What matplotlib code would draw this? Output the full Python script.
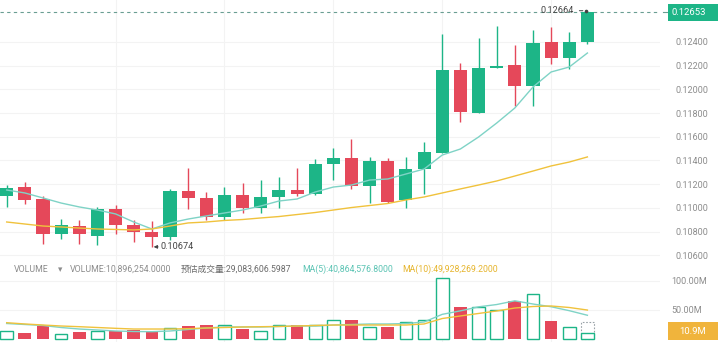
import matplotlib
matplotlib.use("Agg")
import matplotlib.pyplot as plt
from matplotlib.patches import Rectangle
import numpy as np

plt.rcParams['font.family'] = ['Roboto', 'Noto Sans CJK SC', 'DejaVu Sans']

# ---- OHLC data (33 periods) ----
opens = [0.11103, 0.11179, 0.11075, 0.10780, 0.10847, 0.10763, 0.10991, 0.10856, 0.10797,
         0.10754, 0.11143, 0.11086, 0.10923, 0.11109, 0.10999, 0.11090, 0.11154, 0.11117,
         0.11370, 0.11419, 0.11182, 0.11398, 0.11067, 0.11326, 0.11466, 0.12164, 0.11803,
         0.12178, 0.12203, 0.12031, 0.12397, 0.12262, 0.12400]
closes = [0.11170, 0.11069, 0.10780, 0.10856, 0.10780, 0.10991, 0.10856, 0.10797, 0.10754,
          0.11143, 0.11084, 0.10926, 0.11109, 0.10999, 0.11092, 0.11154, 0.11117, 0.11373,
          0.11419, 0.11187, 0.11398, 0.11052, 0.11326, 0.11469, 0.12164, 0.11809, 0.12178,
          0.12195, 0.12031, 0.12392, 0.12268, 0.12403, 0.12653]
highs = [0.11190, 0.11219, 0.11100, 0.10906, 0.10898, 0.11008, 0.11025, 0.10898, 0.10889,
         0.11160, 0.11337, 0.11137, 0.11179, 0.11213, 0.11235, 0.11258, 0.11339, 0.11415,
         0.11508, 0.11579, 0.11427, 0.11421, 0.11432, 0.11554, 0.12465, 0.12220, 0.12436,
         0.12535, 0.12375, 0.12501, 0.12529, 0.12487, 0.12664]
lows = [0.11008, 0.11033, 0.10695, 0.10738, 0.10695, 0.10687, 0.10780, 0.10712, 0.10674,
        0.10729, 0.10991, 0.10898, 0.10898, 0.10957, 0.10957, 0.10999, 0.11100, 0.11109,
        0.11235, 0.11160, 0.11039, 0.11041, 0.10997, 0.11115, 0.11466, 0.11722, 0.11803,
        0.12178, 0.11860, 0.11860, 0.12214, 0.12170, 0.12381]

# moving averages of price
ma5 = [0.11151, 0.11126, 0.11084, 0.11041, 0.11008, 0.10982, 0.10949, 0.10881, 0.10822,
       0.10873, 0.10906, 0.10932, 0.10957, 0.10982, 0.11016, 0.11058, 0.11075, 0.11134,
       0.11176, 0.11193, 0.11235, 0.11244, 0.11286, 0.11328, 0.11446, 0.11497, 0.11598,
       0.11716, 0.11843, 0.12020, 0.12147, 0.12189, 0.12307]
ma10 = [0.10881, 0.10864, 0.10847, 0.10839, 0.10830, 0.10822, 0.10818, 0.10814, 0.10822,
        0.10847, 0.10873, 0.10881, 0.10894, 0.10902, 0.10915, 0.10927, 0.10944, 0.10961,
        0.10982, 0.11003, 0.11020, 0.11037, 0.11067, 0.11092, 0.11126, 0.11160, 0.11193,
        0.11227, 0.11269, 0.11311, 0.11354, 0.11387, 0.11430]

# ---- volume (millions) ----
volume = [14.3, 9.8, 22.4, 8.6, 12.6, 13.8, 13.8, 15.5, 11.5, 18.4, 22.4, 24.1, 24.1, 16.7,
          14.3, 24.1, 24.1, 24.1, 32.7, 32.7, 21.2, 21.2, 29.8, 32.7, 104.4, 54.5, 55.6,
          49.9, 64.8, 76.9, 31.0, 21.2, 10.9]
est_volume_last = 29.08
vol_ma5 = [26.7, 25.0, 23.3, 19.8, 17.2, 15.5, 13.8, 12.9, 12.6, 13.8, 16.4, 19.0, 20.7,
           20.7, 20.7, 21.6, 22.4, 22.4, 24.1, 25.0, 25.9, 25.9, 26.7, 29.3, 42.5, 48.5,
           55.4, 59.4, 65.8, 60.3, 55.6, 48.8, 40.9]
vol_ma10 = [28.1, 25.9, 24.1, 22.4, 21.2, 19.8, 18.4, 17.2, 17.2, 17.2, 17.8, 19.0, 19.8,
            20.7, 21.2, 21.6, 22.4, 23.3, 24.1, 24.1, 24.1, 24.1, 24.1, 25.9, 35.3, 39.7,
            44.0, 48.3, 53.4, 56.0, 56.9, 54.3, 49.9]

price_ticks = [0.106, 0.108, 0.110, 0.112, 0.114, 0.116, 0.118, 0.120, 0.122, 0.124]
vol_ticks = [50, 100]
last_price = 0.12653
max_label = "0.12664"
min_label = "0.10674"
header_volume = "VOLUME:10,896,254.0000"
header_est = "预估成交量:29,083,606.5987"
header_ma5 = "MA(5):40,864,576.8000"
header_ma10 = "MA(10):49,928,269.2000"

UP = '#1db587'
DOWN = '#e5485a'
MA5_C = '#7fd3c6'
MA10_C = '#f0c23c'
GRID = '#f3f3f3'
LABEL = '#8c8c8c'

W, H = 718, 342
fig = plt.figure(figsize=(W / 100, H / 100), dpi=100)
fig.patch.set_facecolor('white')

x = np.arange(len(opens))
xl = (-0.369, 36.0)
right_px = 660

ax = fig.add_axes([0, 80 / H, right_px / W, 262 / H])
axv = fig.add_axes([0, 0, right_px / W, 80 / H])

for a in (ax, axv):
    a.set_xlim(*xl)
    for s in a.spines.values():
        s.set_visible(False)
    a.set_xticks([6, 12, 18, 24, 30])
    a.tick_params(axis='x', length=0, labelbottom=False)
    a.grid(True, color=GRID, linewidth=0.8)
    a.set_axisbelow(True)
    a.yaxis.tick_right()
    a.tick_params(axis='y', length=0, pad=11, labelsize=6.5, labelcolor=LABEL)

# price panel
ax.set_ylim(0.105434, 0.127544)
ax.set_yticks(price_ticks)
ax.set_yticklabels([f"{t:.5f}" for t in price_ticks])

bw = 0.72
for i in x:
    up = closes[i] >= opens[i]
    c = UP if up else DOWN
    ax.vlines(i, lows[i], highs[i], color=c, linewidth=1.0, zorder=2)
    lo = min(opens[i], closes[i])
    h = max(abs(closes[i] - opens[i]), 0.00012)
    ax.add_patch(Rectangle((i - bw / 2, lo), bw, h, facecolor=c, edgecolor='none', zorder=3))

ax.plot(x, ma5, color=MA5_C, linewidth=1.0, zorder=4)
ax.plot(x, ma10, color=MA10_C, linewidth=1.0, zorder=4)

# last price line and tag
ax.axhline(last_price, color='#6a9e92', linewidth=0.8, linestyle=(0, (3, 3)), zorder=1)
fig.add_artist(Rectangle((668 / W, 1 - 20.5 / H), 50 / W, 16.5 / H, transform=fig.transFigure,
                         facecolor=UP, edgecolor='none', zorder=10))
fig.text(672 / W, 1 - 12.2 / H, f"{last_price:.5f}", color='white', fontsize=6.8,
         va='center', ha='left', zorder=11)
fig.add_artist(plt.Line2D([663 / W, 668 / W], [1 - 12.2 / H] * 2, color='#6a9e92',
                          linewidth=0.8, transform=fig.transFigure))

# extreme labels
imax = int(np.argmax(highs))
imin = int(np.argmin(lows))
ax.annotate(max_label, xy=(imax - 0.1, highs[imax]), xytext=(imax - 0.75, highs[imax]),
            fontsize=6.6, color='#444444', ha='right', va='center',
            arrowprops=dict(arrowstyle='-', color='#444444', linewidth=0.7))
ax.plot(imax - 0.1, highs[imax], marker='o', markersize=1.6, color='#444444', zorder=6)
ax.annotate(min_label, xy=(imin + 0.1, lows[imin] - 0.00003),
            xytext=(imin + 0.5, lows[imin] - 0.00003),
            fontsize=6.6, color='#444444', ha='left', va='center',
            arrowprops=dict(arrowstyle='-|>,head_length=0.3,head_width=0.15',
                            color='#444444', linewidth=0.7, shrinkA=0, shrinkB=0))

# volume panel
axv.set_ylim(-5.17, 132.7)
axv.set_yticks(vol_ticks)
axv.set_yticklabels([f"{t:.2f}M" for t in vol_ticks])
axv.tick_params(axis='y', pad=8)
vw = 0.7
for i in x:
    up = closes[i] >= opens[i]
    if up:
        axv.add_patch(Rectangle((i - vw / 2, 0), vw, volume[i], facecolor='white',
                                edgecolor=UP, linewidth=1.0, zorder=3))
    else:
        axv.add_patch(Rectangle((i - vw / 2, 0), vw, volume[i], facecolor=DOWN,
                                edgecolor='none', zorder=3))
last = len(volume) - 1
axv.add_patch(Rectangle((last - vw / 2, 0), vw, est_volume_last, facecolor='none',
                        edgecolor='#9aa3a8', linewidth=0.8, linestyle=(0, (1.5, 1.5)), zorder=2))
axv.plot(x, vol_ma5, color=MA5_C, linewidth=1.0, zorder=4)
axv.plot(x, vol_ma10, color=MA10_C, linewidth=1.0, zorder=4)

# current volume tag
fig.add_artist(Rectangle((668 / W, 2 / H), 50 / W, 18 / H, transform=fig.transFigure,
                         facecolor='#f0b43c', edgecolor='none', zorder=10))
fig.text(693 / W, 11 / H, f"{volume[-1]:.1f}M", color='white', fontsize=6.8,
         ha='center', va='center', zorder=11)

# volume header
hy = 1 - 269.5 / H
fs = 6.3
fig.text(14 / W, hy, "VOLUME", color=LABEL, fontsize=fs, va='center')
fig.text(58 / W, hy, "▾", color=LABEL, fontsize=fs, va='center', family=['DejaVu Sans'])
fig.text(70 / W, hy, header_volume, color=LABEL, fontsize=fs, va='center')
fig.text(181 / W, hy, header_est, color='#6b6b6b', fontsize=fs, va='center')
fig.text(302 / W, hy, header_ma5, color='#5cc4b4', fontsize=fs, va='center')
fig.text(402 / W, hy, header_ma10, color='#e6b52e', fontsize=fs, va='center')

fig.savefig('out.png', dpi=100, facecolor='white')
